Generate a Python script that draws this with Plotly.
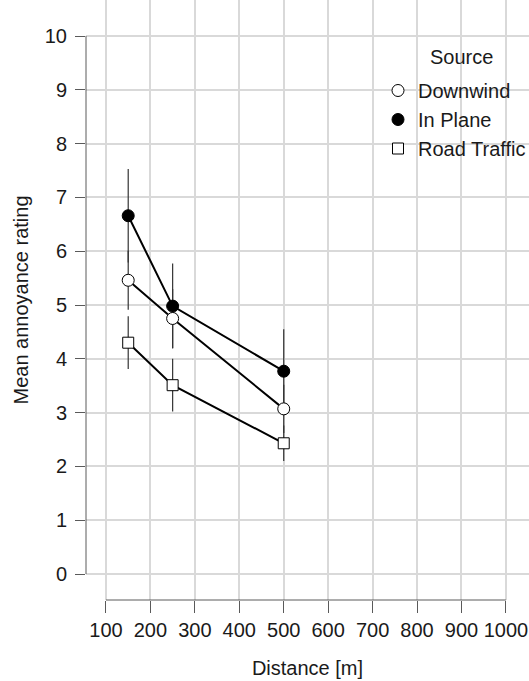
import plotly.graph_objects as go

distance = [150, 250, 500]
series_names = ["Downwind", "In Plane", "Road Traffic"]
downwind = [5.46, 4.75, 3.07]
in_plane = [6.66, 4.98, 3.77]
road_traffic = [4.30, 3.51, 2.43]
err_downwind = [0.55, 0.55, 0.45]
err_in_plane = [0.87, 0.79, 0.78]
err_road = [0.49, 0.49, 0.33]

x_ticks = [100, 200, 300, 400, 500, 600, 700, 800, 900, 1000]
y_ticks = list(range(0, 11))

FONT = "Liberation Sans, Arial, sans-serif"
FS = 20
GRID = "#d9d9d9"
AX = "#5a5a5a"

values = [downwind, in_plane, road_traffic]
errors = [err_downwind, err_in_plane, err_road]
styles = [
    dict(symbol="circle", color="white", size=12),
    dict(symbol="circle", color="black", size=12),
    dict(symbol="square", color="white", size=11),
]

fig = go.Figure()

# error bars (drawn first, behind lines and markers)
for v, e in zip(values, errors):
    fig.add_trace(go.Scatter(
        x=distance, y=v, mode="markers",
        marker=dict(size=1, color="rgba(0,0,0,0)"),
        error_y=dict(type="data", array=e, visible=True, color="#333333",
                     thickness=1.2, width=0),
        showlegend=False, hoverinfo="skip"))

# lines + markers; draw order Road, In Plane, Downwind
for idx in [2, 1, 0]:
    st = styles[idx]
    fig.add_trace(go.Scatter(
        x=distance, y=values[idx], mode="lines+markers",
        line=dict(color="black", width=2),
        marker=dict(symbol=st["symbol"], size=st["size"], color=st["color"],
                    line=dict(color="black", width=1)),
        showlegend=False, name=series_names[idx]))

# legend entries (markers only)
for idx in [0, 1, 2]:
    st = styles[idx]
    fig.add_trace(go.Scatter(
        x=[None], y=[None], mode="markers", name=series_names[idx],
        marker=dict(symbol=st["symbol"], size=st["size"], color=st["color"],
                    line=dict(color="black", width=1)),
        showlegend=True))

# axis lines spanning only the tick range
fig.add_shape(type="line", xref="paper", yref="y", x0=0, x1=0,
              y0=y_ticks[0], y1=y_ticks[-1], line=dict(color=AX, width=1))
fig.add_shape(type="line", xref="x", yref="paper", x0=x_ticks[0], x1=x_ticks[-1],
              y0=0, y1=0, line=dict(color=AX, width=1))

# legend title
fig.add_annotation(text="Source", xref="paper", yref="paper",
                   x=(461 - 86) / 443, y=1 - 57 / 600, xanchor="center", yanchor="middle",
                   showarrow=False, font=dict(size=FS, color="#1a1a1a"))

fig.update_layout(
    width=529, height=681,
    margin=dict(l=86, r=0, t=0, b=81, autoexpand=False),
    plot_bgcolor="white", paper_bgcolor="white",
    font=dict(family=FONT, size=FS, color="#1a1a1a"),
    xaxis=dict(range=[55, 1052], tickvals=x_ticks, ticktext=[str(t) for t in x_ticks],
               showgrid=True, gridcolor=GRID, gridwidth=2, zeroline=False,
               showline=False, ticks="outside", ticklen=12, tickcolor=AX,
               tickwidth=1, tickfont=dict(size=FS), automargin=False,
               title=dict(text="Distance [m]", font=dict(size=FS), standoff=20)),
    yaxis=dict(range=[-0.483, 10.67], tickvals=y_ticks,
               showgrid=True, gridcolor=GRID, gridwidth=2, zeroline=False,
               showline=False, ticks="outside", ticklen=10, tickcolor=AX,
               tickwidth=1, tickfont=dict(size=FS), ticklabelstandoff=4, automargin=False,
               title=dict(text="Mean annoyance rating", font=dict(size=FS), standoff=10)),
    legend=dict(x=(378 - 86) / 443, y=1 - 71 / 600, xanchor="left", yanchor="top",
                bgcolor="rgba(0,0,0,0)", font=dict(size=FS),
                tracegroupgap=0, itemclick=False),
)

fig.write_html("out.html")
